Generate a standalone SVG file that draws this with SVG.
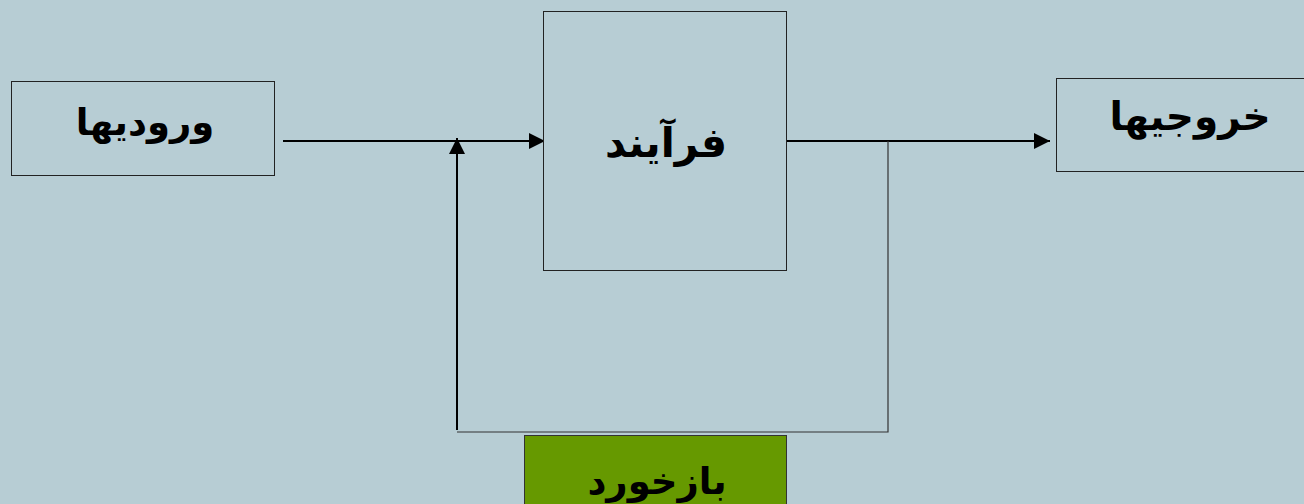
<svg xmlns="http://www.w3.org/2000/svg" width="1304" height="504" viewBox="0 0 1304 504">
<defs>
<style>
.box{fill:#B7CDD4;stroke:#222;stroke-width:1}
.lbl{font-family:"DejaVu Sans","Liberation Sans",sans-serif;font-weight:bold;fill:#000;text-anchor:middle}
.arr{stroke:#000;stroke-width:2;fill:none}
.thin{stroke:#333;stroke-width:1.2;fill:none}
</style>
<marker id="ah2" viewBox="0 0 10 10" refX="10" refY="5" markerWidth="16" markerHeight="16" markerUnits="userSpaceOnUse" orient="auto">
<path d="M0,0 L10,5 L0,10 Z" fill="#000"/>
</marker>
</defs>
<rect width="1304" height="504" fill="#B7CDD4"/>
<g id="connectors">
<line class="arr" x1="283" y1="141" x2="545" y2="141" marker-end="url(#ah2)"/>
<line class="arr" x1="787" y1="141" x2="1050" y2="141" marker-end="url(#ah2)"/>
<polyline class="thin" points="888,141 888,432 457,432"/>
<line class="arr" x1="457" y1="430" x2="457" y2="138" marker-end="url(#ah2)"/>
</g>
<g id="inputs">
<rect class="box" x="11.5" y="81.5" width="263" height="94"/>
<text class="lbl" x="145" y="135" font-size="37">ورودیها</text>
</g>
<g id="process">
<rect class="box" x="543.5" y="11.5" width="243" height="259"/>
<text class="lbl" x="666" y="157" font-size="41">فرآیند</text>
</g>
<g id="outputs">
<rect class="box" x="1056.5" y="78.5" width="260" height="93"/>
<text class="lbl" x="1190" y="130" font-size="39">خروجیها</text>
</g>
<g id="feedback">
<rect x="524.5" y="435.5" width="262" height="80" fill="#669900" stroke="#333" stroke-width="1"/>
<text class="lbl" x="657" y="494" font-size="37">بازخورد</text>
</g>
</svg>
